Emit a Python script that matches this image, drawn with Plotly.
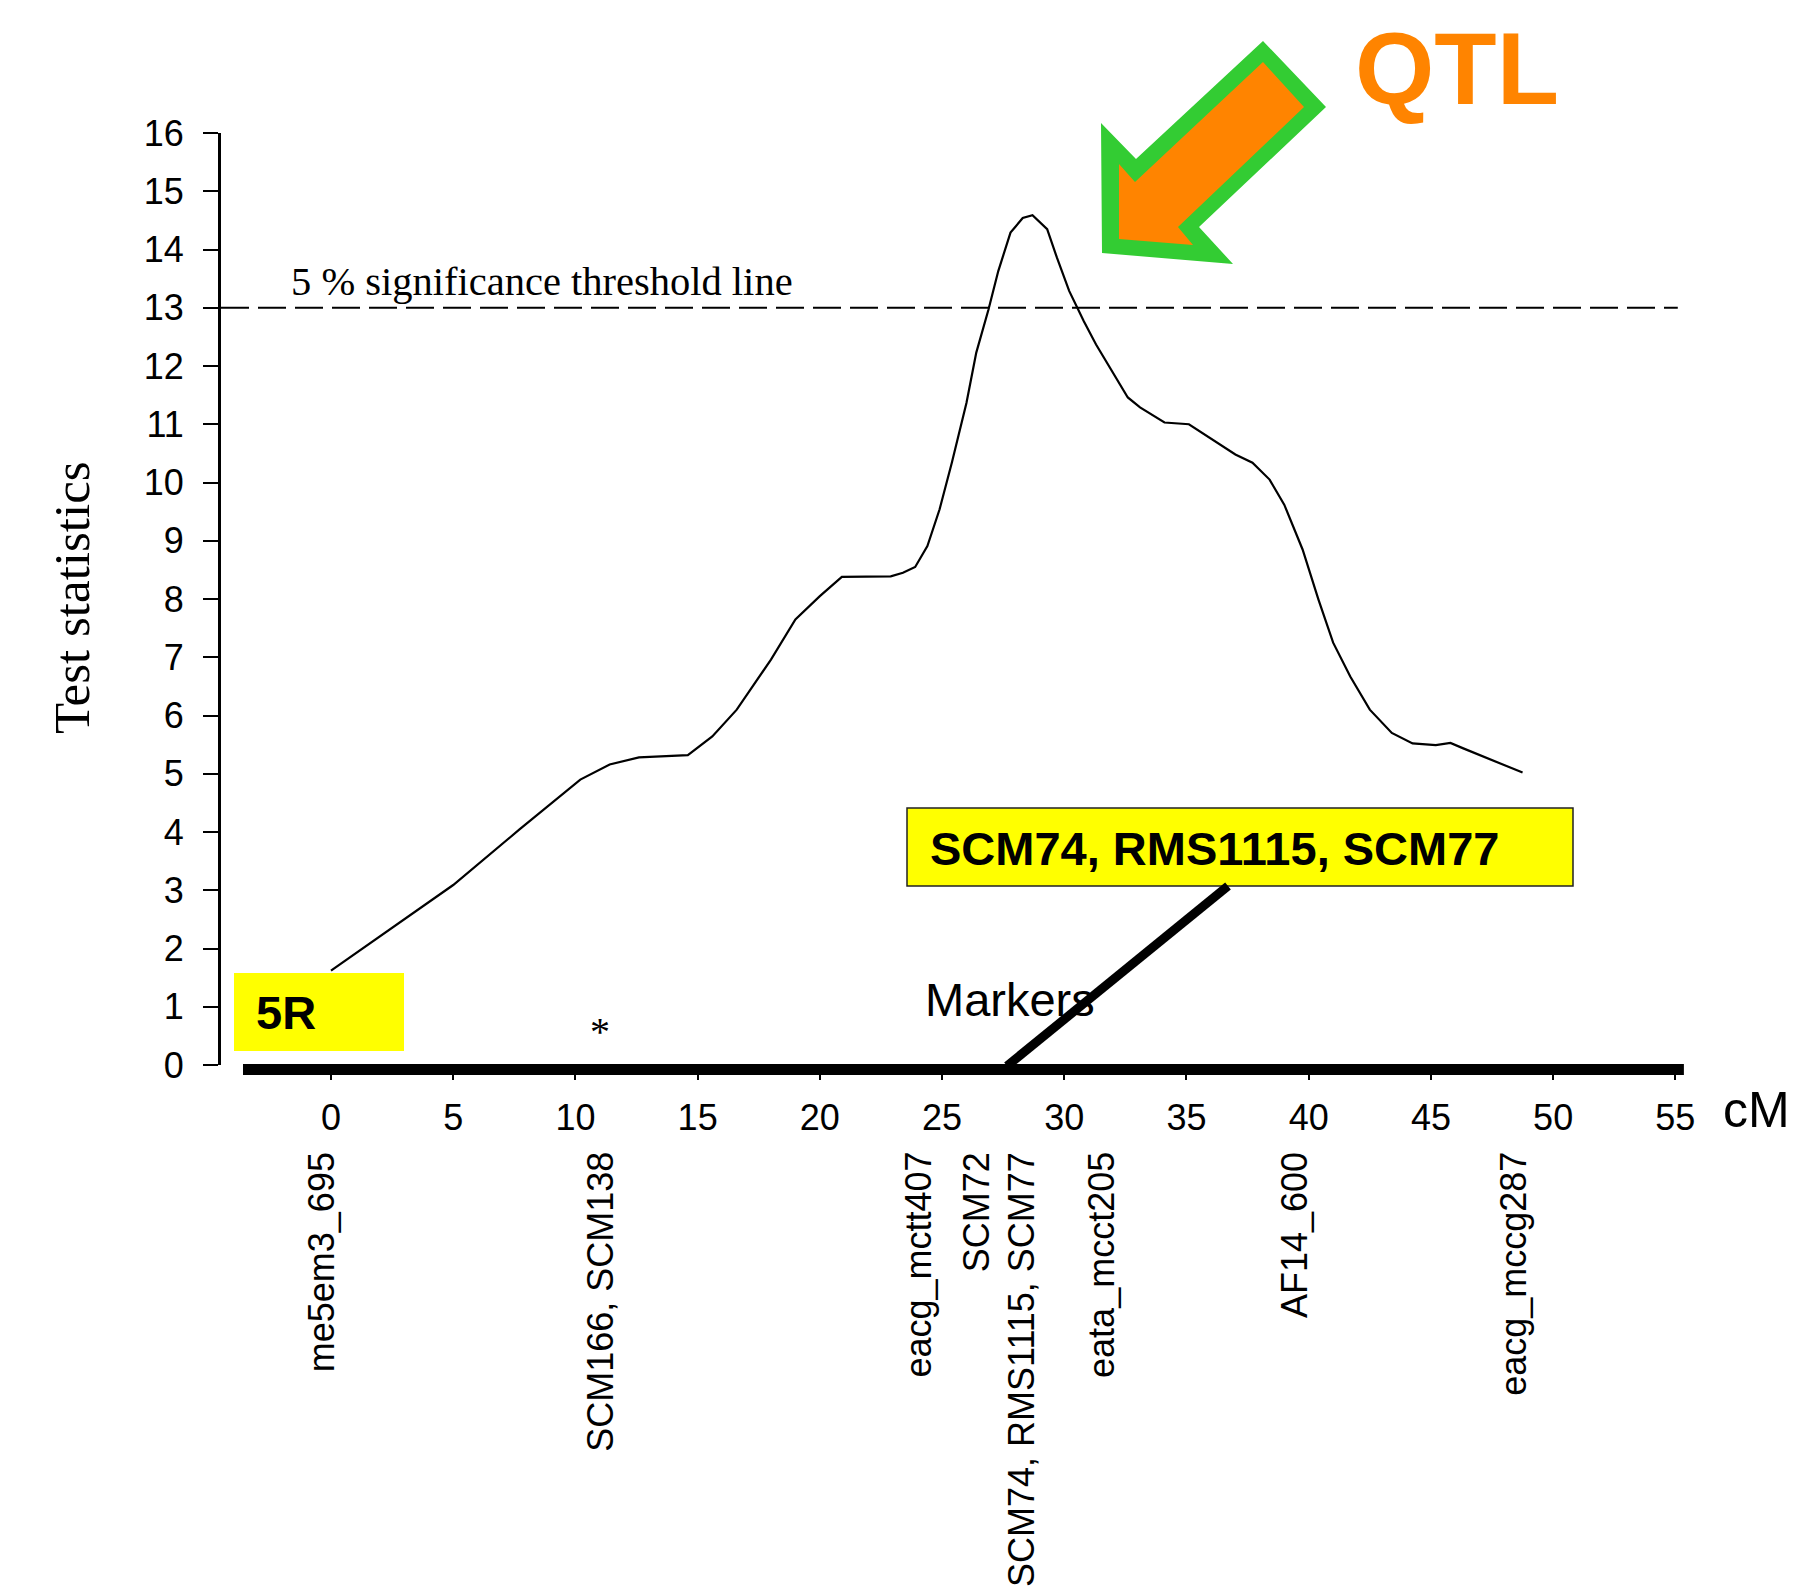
import plotly.graph_objects as go

# ---------------- data ----------------
position_cm = [0.0, 2.3, 5.0, 7.7, 9.1, 10.2, 11.4, 12.6, 14.6, 15.6, 16.6, 18.0, 19.0, 19.6,
               20.0, 20.9, 22.9, 23.4, 23.9, 24.4, 24.9, 25.4, 26.0, 26.4, 26.9, 27.3, 27.8,
               28.3, 28.7, 29.3, 29.7, 30.2, 30.8, 31.3, 32.0, 32.6, 33.1, 34.1, 35.1, 37.0,
               37.7, 38.4, 39.0, 39.75, 40.4, 41.0, 41.7, 42.5, 43.4, 44.25, 45.2, 45.8, 46.3,
               48.75]
test_stat = [1.62, 2.29, 3.09, 4.04, 4.53, 4.90, 5.16, 5.28, 5.32, 5.64, 6.10, 6.96, 7.65, 7.90,
             8.05, 8.38, 8.39, 8.45, 8.55, 8.91, 9.54, 10.34, 11.37, 12.23, 12.97, 13.63, 14.29,
             14.54, 14.59, 14.35, 13.86, 13.29, 12.77, 12.37, 11.89, 11.46, 11.29, 11.03, 11.0,
             10.48, 10.34, 10.05, 9.62, 8.85, 7.99, 7.25, 6.67, 6.10, 5.70, 5.52, 5.49, 5.53,
             5.44, 5.02]

threshold = 13
threshold_label = "5 % significance threshold line"

marker_names = ["me5em3_695", "SCM166, SCM138", "eacg_mctt407", "SCM72",
                "SCM74, RMS1115, SCM77", "eata_mcct205", "AF14_600", "eacg_mccg287"]
marker_cm = [-0.4, 11.0, 24.0, 26.4, 28.25, 31.5, 39.4, 48.35]

x_ticks = list(range(0, 56, 5))
y_ticks = list(range(0, 17))

# ---------------- layout geometry (pixels) ----------------
FIG_W, FIG_H = 1797, 1594
L, T = 221, 133
PW, PH = 1491, 932
XR = [-4.5, 56.5]
YR = [0, 16]


def px(xp):
    return (xp - L) / PW


def py(yp):
    return (T + PH - yp) / PH


def cm_to_paper(v):
    return (v - XR[0]) / (XR[1] - XR[0])


SANS = "Liberation Sans, Arial, sans-serif"
SERIF = "Liberation Serif, Times New Roman, serif"

fig = go.Figure()
fig.add_trace(go.Scatter(x=position_cm, y=test_stat, mode="lines",
                         line=dict(color="black", width=2.2), showlegend=False,
                         hoverinfo="skip"))

shapes = []
# threshold dashed line
shapes.append(dict(type="line", xref="x", yref="y", x0=XR[0], x1=55.1, y0=threshold, y1=threshold,
                   line=dict(color="black", width=1.8, dash="28px,9px")))
# thick chromosome bar (x-axis)
shapes.append(dict(type="rect", xref="paper", yref="paper",
                   x0=cm_to_paper(-3.6), x1=cm_to_paper(55.35), y0=py(1075), y1=py(1064),
                   fillcolor="black", line=dict(width=0)))
# 5R box
shapes.append(dict(type="rect", xref="paper", yref="paper", x0=px(234), x1=px(404),
                   y0=py(1051), y1=py(973), fillcolor="#FFFF00", line=dict(width=0)))
# SCM box
shapes.append(dict(type="rect", xref="paper", yref="paper", x0=px(907), x1=px(1573),
                   y0=py(886), y1=py(808), fillcolor="#FFFF00",
                   line=dict(color="#222222", width=1.5)))
# diagonal pointer line
shapes.append(dict(type="line", xref="paper", yref="paper", x0=px(1228), y0=py(886),
                   x1=px(1007), y1=py(1066), line=dict(color="black", width=9)))


def poly(points):
    s = "M " + " L ".join(f"{px(a):.5f},{py(b):.5f}" for a, b in points) + " Z"
    return s


arrow_outer = [(1102, 253), (1101, 123), (1136, 159), (1263, 41), (1326, 107), (1199, 227), (1233, 264)]
arrow_inner = [(1119, 239), (1119, 164), (1135, 182), (1263, 62), (1304, 107), (1178, 227), (1193, 245)]
shapes.append(dict(type="path", xref="paper", yref="paper", path=poly(arrow_outer),
                   fillcolor="#33CC33", line=dict(width=0)))
shapes.append(dict(type="path", xref="paper", yref="paper", path=poly(arrow_inner),
                   fillcolor="#FF8400", line=dict(width=0)))

annotations = []
# y title
annotations.append(dict(text="Test statistics", xref="paper", yref="paper", x=px(72), y=py(598),
                        textangle=-90, showarrow=False, xanchor="center", yanchor="middle",
                        font=dict(family=SERIF, size=51, color="black")))
# threshold label
annotations.append(dict(text=threshold_label, xref="paper", yref="paper", x=px(289), y=py(281),
                        showarrow=False, xanchor="left", yanchor="middle",
                        font=dict(family=SERIF, size=40.5, color="black")))
# cM
annotations.append(dict(text="cM", xref="paper", yref="paper", x=px(1756), y=py(1110),
                        showarrow=False, xanchor="center", yanchor="middle",
                        font=dict(family=SANS, size=50, color="black")))
# marker labels
for name, pos in zip(marker_names, marker_cm):
    annotations.append(dict(text=name, xref="paper", yref="paper", x=cm_to_paper(pos), y=py(1150),
                            textangle=-90, showarrow=False, xanchor="center", yanchor="top",
                            font=dict(family=SANS, size=36, color="black")))
# asterisk
annotations.append(dict(text="*", xref="paper", yref="paper", x=cm_to_paper(11.0), y=py(1031),
                        showarrow=False, xanchor="center", yanchor="middle",
                        font=dict(family=SERIF, size=40, color="black")))
# Markers
annotations.append(dict(text="Markers", xref="paper", yref="paper", x=px(923), y=py(999),
                        showarrow=False, xanchor="left", yanchor="middle",
                        font=dict(family=SANS, size=47, color="black")))
# 5R
annotations.append(dict(text="<b>5R</b>", xref="paper", yref="paper", x=px(254), y=py(1012),
                        showarrow=False, xanchor="left", yanchor="middle",
                        font=dict(family=SANS, size=47, color="black")))
# SCM box text
annotations.append(dict(text="<b>SCM74, RMS1115, SCM77</b>", xref="paper", yref="paper",
                        x=px(928), y=py(848), showarrow=False, xanchor="left", yanchor="middle",
                        font=dict(family=SANS, size=47, color="black")))
# QTL
annotations.append(dict(text="<b>QTL</b>", xref="paper", yref="paper", x=px(1457), y=py(69),
                        showarrow=False, xanchor="center", yanchor="middle",
                        font=dict(family=SANS, size=102, color="#FF8400")))

fig.update_layout(
    width=FIG_W, height=FIG_H,
    margin=dict(l=L, r=FIG_W - L - PW, t=T, b=FIG_H - T - PH, pad=0),
    paper_bgcolor="white", plot_bgcolor="white",
    shapes=shapes, annotations=annotations, showlegend=False,
    xaxis=dict(range=XR, tickvals=x_ticks, ticktext=[str(v) for v in x_ticks],
               showline=False, showgrid=False, zeroline=False,
               ticks="outside", ticklen=14, tickwidth=2, tickcolor="black",
               ticklabelstandoff=7,
               tickfont=dict(family=SANS, size=36, color="black")),
    yaxis=dict(range=YR, tickvals=y_ticks, showline=True, linewidth=3, linecolor="black",
               showgrid=False, zeroline=False, ticks="outside", ticklen=15, tickwidth=2,
               tickcolor="black", ticklabelstandoff=12,
               tickfont=dict(family=SANS, size=36, color="black")),
)

fig.write_html("out.html", config={"displayModeBar": False},
               post_script="document.body.style.margin='0';document.body.style.overflow='hidden';")
